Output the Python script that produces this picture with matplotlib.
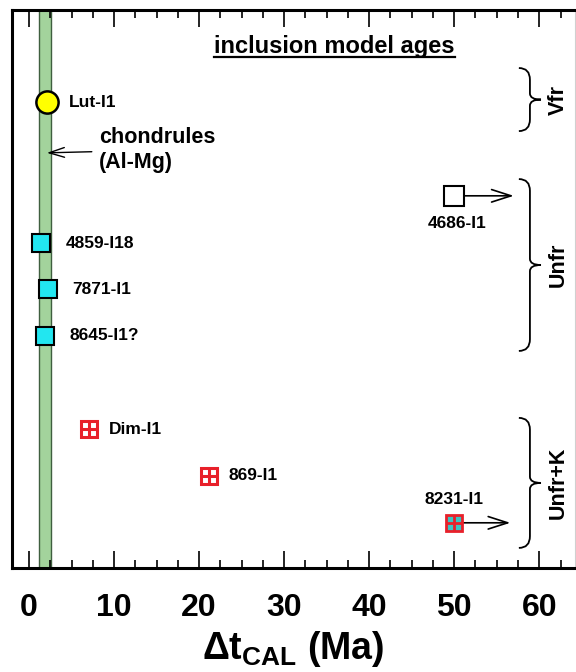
import matplotlib
matplotlib.use('Agg')
import matplotlib.pyplot as plt
from matplotlib.path import Path
from matplotlib.patches import PathPatch
from matplotlib.lines import Line2D
from matplotlib.ticker import MultipleLocator

plt.rcParams['font.family'] = ['Liberation Sans', 'DejaVu Sans']
plt.rcParams['font.weight'] = 'bold'
plt.rcParams['mathtext.fontset'] = 'custom'
plt.rcParams['mathtext.bf'] = 'Liberation Sans:bold'
plt.rcParams['mathtext.rm'] = 'Liberation Sans:bold'
plt.rcParams['mathtext.it'] = 'Liberation Sans:bold'
plt.rcParams['mathtext.default'] = 'bf'

# dt_CAL in Ma, row = vertical slot (0 top .. 100 bottom, no physical meaning)
vfr_names = ['Lut-I1']
vfr_dt = [2.1]
vfr_row = [16.5]

unfr_names = ['4859-I18', '7871-I1', '8645-I1?']
unfr_dt = [1.4, 2.2, 1.85]
unfr_row = [41.8, 50.0, 58.4]

unfr_limit_names = ['4686-I1']
unfr_limit_dt = [50.0]
unfr_limit_row = [33.3]

unfrk_names = ['Dim-I1', '869-I1']
unfrk_dt = [7.1, 21.2]
unfrk_row = [75.1, 83.5]

unfrk_limit_names = ['8231-I1']
unfrk_limit_dt = [50.0]
unfrk_limit_row = [91.9]

chondrule_band = (1.2, 2.6)

brace_labels = ['Vfr', 'Unfr', 'Unfr+K']
brace_top = [10.4, 30.3, 73.1]
brace_bot = [21.7, 61.1, 96.4]

xticks = [0, 10, 20, 30, 40, 50, 60]

RED = '#e8202a'
CYAN = '#22e6f0'


def draw_brace(ax, y0, y1, xv=58.9, xe=57.6, xt=60.2, rc=2.1, rm=1.1):
    ym = (y0 + y1) / 2
    verts = [(xe, y0), (xv, y0), (xv, y0 + rc),
             (xv, ym - rm), (xv, ym), (xt, ym),
             (xv, ym), (xv, ym + rm),
             (xv, y1 - rc), (xv, y1), (xe, y1)]
    codes = [Path.MOVETO, Path.CURVE3, Path.CURVE3,
             Path.LINETO, Path.CURVE3, Path.CURVE3,
             Path.CURVE3, Path.CURVE3,
             Path.LINETO, Path.CURVE3, Path.CURVE3]
    ax.add_patch(PathPatch(Path(verts, codes), fill=False, lw=1.3,
                           edgecolor='black', zorder=2))


fig = plt.figure(figsize=(5.76, 6.72), dpi=100)
ax = fig.add_axes([12 / 576, 1 - 568 / 672, 563 / 576, 558 / 672])
ax.set_xlim(-2.0, 64.2)
ax.set_ylim(100, 0)

# chondrule Al-Mg band
ax.axvspan(*chondrule_band, facecolor='#a3d39c', edgecolor='#3f5f3f',
           lw=1.0, zorder=1)

# Vfr
ax.plot(vfr_dt, vfr_row, 'o', ms=16, mfc='#ffff00', mec='black', mew=1.8,
        zorder=4)
for n, x, y in zip(vfr_names, vfr_dt, vfr_row):
    ax.annotate(n, (x, y), xytext=(16, 0), textcoords='offset points',
                va='center', ha='left', fontsize=12.5)

# Unfr
ax.plot(unfr_dt, unfr_row, 's', ms=13.5, mfc=CYAN, mec='black', mew=1.5,
        zorder=4)
for n, x, y in zip(unfr_names, unfr_dt, unfr_row):
    ax.annotate(n, (x, y), xytext=(18, 0), textcoords='offset points',
                va='center', ha='left', fontsize=12.5)

ax.plot(unfr_limit_dt, unfr_limit_row, 's', ms=14, mfc='white', mec='black',
        mew=1.5, zorder=4)
for n, x, y in zip(unfr_limit_names, unfr_limit_dt, unfr_limit_row):
    ax.annotate('', xy=(x + 7.0, y), xytext=(x, y),
                arrowprops=dict(arrowstyle='->,head_length=1.4,head_width=0.45',
                                mutation_scale=10, lw=1.2, shrinkA=0, shrinkB=0),
                zorder=3)
    ax.annotate(n, (x, y), xytext=(2, -20), textcoords='offset points',
                va='center', ha='center', fontsize=12.5)

# Unfr+K
ax.plot(unfrk_dt, unfrk_row, 's', ms=11.5, mfc='white', mec=RED, mew=2.2,
        zorder=4)
ax.plot(unfrk_dt, unfrk_row, '+', ms=11.5, mec=RED, mew=2.2, zorder=5)
for n, x, y in zip(unfrk_names, unfrk_dt, unfrk_row):
    ax.annotate(n, (x, y), xytext=(14, 0), textcoords='offset points',
                va='center', ha='left', fontsize=12.5)

for n, x, y in zip(unfrk_limit_names, unfrk_limit_dt, unfrk_limit_row):
    ax.annotate('', xy=(x + 6.6, y), xytext=(x, y),
                arrowprops=dict(arrowstyle='->,head_length=1.4,head_width=0.45',
                                mutation_scale=10, lw=1.2, shrinkA=0, shrinkB=0),
                zorder=3)
    ax.annotate(n, (x, y), xytext=(0, 16.5), textcoords='offset points',
                va='center', ha='center', fontsize=12.5)
ax.plot(unfrk_limit_dt, unfrk_limit_row, 's', ms=11.5, mfc='#3cc4c4', mec=RED,
        mew=2.0, zorder=4)
ax.plot(unfrk_limit_dt, unfrk_limit_row, '+', ms=11.5, mec=RED, mew=2.0,
        zorder=5)

# braces
for lab, y0, y1 in zip(brace_labels, brace_top, brace_bot):
    draw_brace(ax, y0, y1)
    ax.text(62.2, (y0 + y1) / 2, lab, rotation=90, ha='center', va='center',
            fontsize=15.5)

# chondrules note
ax.annotate('chondrules\n(Al-Mg)', xy=(2.1, 25.6), xytext=(8.2, 25.1),
            ha='left', va='center', fontsize=15.5, linespacing=1.2,
            arrowprops=dict(arrowstyle='->,head_length=1.1,head_width=0.35',
                            mutation_scale=10, lw=1.0, shrinkA=3, shrinkB=0))

title = ax.text(35.9, 6.6, 'inclusion model ages', ha='center', va='center',
                fontsize=17)

# axes styling
for side in ['left', 'top', 'bottom']:
    ax.spines[side].set_linewidth(2.2)
ax.spines['right'].set_color('#d0d0d0')
ax.spines['right'].set_linewidth(0.8)
ax.set_yticks([])
ax.set_xticks(xticks)
ax.xaxis.set_minor_locator(MultipleLocator(2.5))
ax.tick_params(axis='x', which='both', direction='in', top=True, width=1.2,
               labelsize=23, pad=18)
ax.tick_params(axis='x', which='major', length=12)
ax.tick_params(axis='x', which='minor', length=6)
for lab in ax.get_xticklabels():
    lab.set_fontweight('bold')
ax.set_xlabel(r'$\Delta t_{CAL}$ (Ma)', fontsize=27, fontweight='bold',
              labelpad=4)

# underline the title
fig.canvas.draw()
bb = title.get_window_extent()
yl = bb.y0 + 1.5
fig.add_artist(Line2D([bb.x0 / fig.bbox.width, bb.x1 / fig.bbox.width],
                      [yl / fig.bbox.height, yl / fig.bbox.height],
                      color='black', lw=1.6))

fig.savefig('out.png', dpi=100)
